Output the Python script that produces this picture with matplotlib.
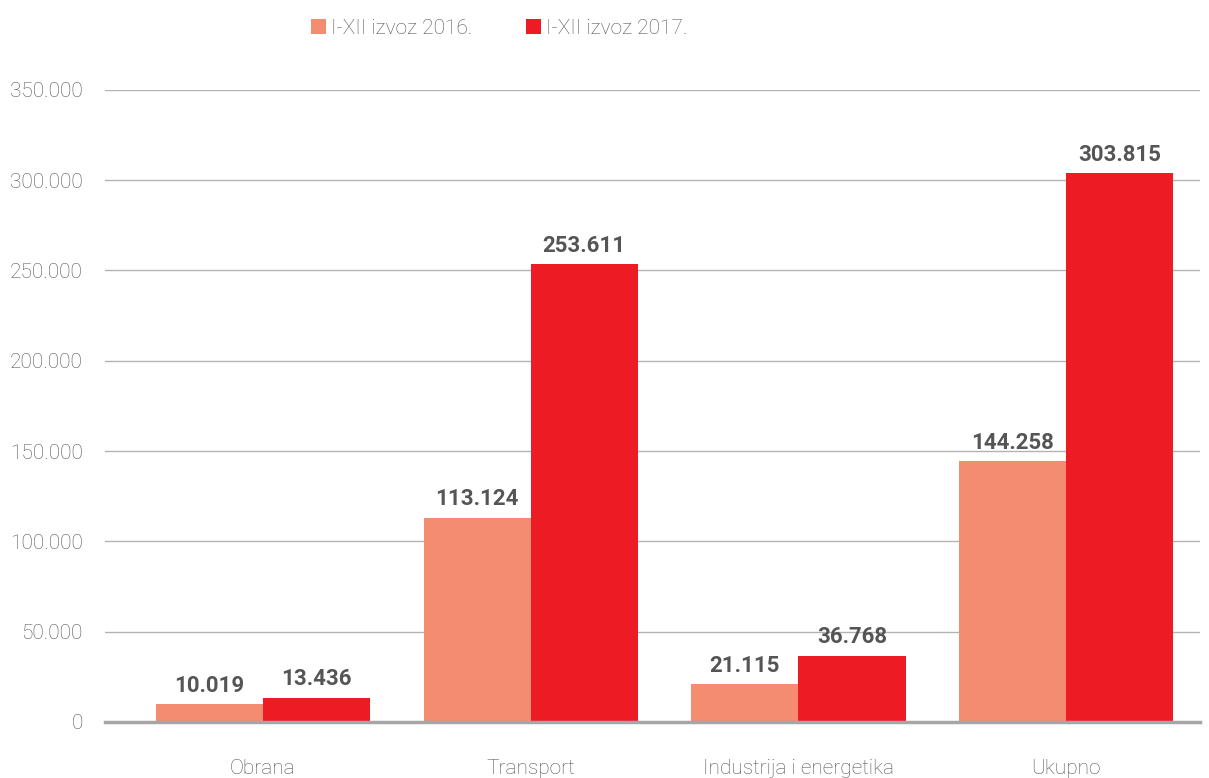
import numpy as np
import matplotlib
matplotlib.use('Agg')
import matplotlib.pyplot as plt
from matplotlib.ticker import FuncFormatter

# Export by sector, I-XII 2016 vs 2017
categories = ['Obrana', 'Transport', 'Industrija i energetika', 'Ukupno']
izvoz_2016 = [10019, 113124, 21115, 144258]
izvoz_2017 = [13436, 253611, 36768, 303815]
series_labels = ['I-XII izvoz 2016.', 'I-XII izvoz 2017.']

col_2016 = '#F48D6F'
col_2017 = '#ED1C24'
txt_grey = '#555555'
lbl_grey = '#555555'

plt.rcParams['font.family'] = ['Roboto', 'DejaVu Sans']


def dots(v):
    return f'{int(v):,}'.replace(',', '.')


fig = plt.figure(figsize=(12.09, 7.78), dpi=100)
ax = fig.add_axes([0.0868, 0.072, 0.9058, 0.8125])

x = np.arange(len(categories))
w = 0.4
b1 = ax.bar(x - w / 2, izvoz_2016, w, color=col_2016, label=series_labels[0], zorder=3)
b2 = ax.bar(x + w / 2, izvoz_2017, w, color=col_2017, label=series_labels[1], zorder=3)

for bars in (b1, b2):
    for r in bars:
        h = r.get_height()
        ax.text(r.get_x() + r.get_width() / 2, h + 4000, dots(h), ha='center', va='bottom',
                fontsize=16, fontweight='bold', color=lbl_grey)

ax.set_xlim(-0.59, 3.5)
ax.set_ylim(0, 350000)
ax.set_yticks(np.arange(0, 350001, 50000))
ax.yaxis.set_major_formatter(FuncFormatter(lambda v, p: dots(v)))
ax.set_xticks(x)
ax.set_xticklabels(categories)
ax.tick_params(axis='both', length=0, labelsize=15, labelcolor=txt_grey)
ax.tick_params(axis='x', pad=27)
ax.tick_params(axis='y', pad=16)
for t in ax.get_xticklabels() + ax.get_yticklabels():
    t.set_fontweight('light')

ax.grid(axis='y', color='#b3b3b3', linewidth=1, zorder=0)
for s in ['top', 'right', 'left']:
    ax.spines[s].set_visible(False)
ax.spines['bottom'].set_color('#a6a6a6')
ax.spines['bottom'].set_linewidth(2.5)
ax.spines['bottom'].set_zorder(4)

leg = fig.legend(loc='upper center', bbox_to_anchor=(0.413, 1.0), ncol=2, frameon=False,
                 fontsize=15, labelcolor=txt_grey, handlelength=0.7, handleheight=0.7,
                 handletextpad=0.25, columnspacing=2.6)
for t in leg.get_texts():
    t.set_fontweight('light')

fig.savefig('out.png', dpi=100)
